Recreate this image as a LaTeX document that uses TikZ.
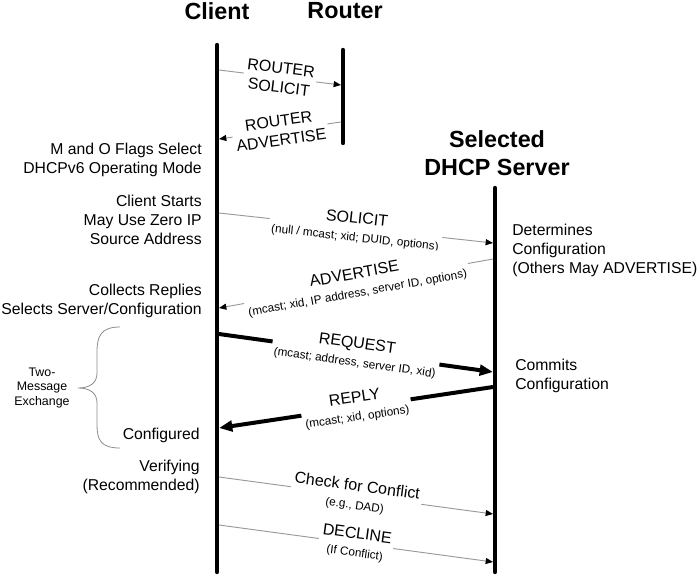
\documentclass[tikz,border=0pt]{standalone}
\usepackage{fontspec}
\setmainfont{Liberation Sans}
\usetikzlibrary{arrows.meta}
\newcommand{\smallf}{\fontsize{8.8}{10}\selectfont}
\begin{document}
\begin{tikzpicture}[x=0.75pt,y=-0.75pt,
  life/.style={line width=3.3pt, line cap=round},
  head/.style={font=\fontsize{17.5}{21}\selectfont\bfseries, align=center, inner sep=0pt},
  body/.style={font=\fontsize{11.8}{14.3}\selectfont, inner sep=0pt},
  thinmsg/.style={draw=black!40, line width=0.7pt, -{Triangle[length=5.5pt,width=4.5pt,color=black]}},
  thickmsg/.style={draw=black, line width=3pt, -{Triangle[length=10pt,width=8pt]}},
  lbl/.style={sloped, fill=white, inner sep=2pt, align=center, font=\fontsize{12}{13}\selectfont},
  rlbl/.style={lbl, font=\fontsize{12}{14.5}\selectfont},
  bracestyle/.style={draw=black!45, line width=0.6pt},
]
\useasboundingbox (0,0) rectangle (700,575);

% headers
\node[head] (hc) at (217,11) {Client};
\node[head] (hr) at (345,11) {Router};
\node[head] (hs) at (497,153) {Selected\\DHCP Server};

% lifelines
\coordinate (ct) at (217,45);  \coordinate (cb) at (217,572);
\coordinate (rt) at (343,50);  \coordinate (rb) at (343,143);
\coordinate (st) at (495,188); \coordinate (sb) at (495,572);
\draw[life] (ct) -- (cb);
\draw[life] (rt) -- (rb);
\draw[life] (st) -- (sb);

% message end points
\coordinate (c1) at (219,70);  \coordinate (r1) at (341,85);
\coordinate (r2) at (341,122); \coordinate (c2) at (219,139);
\coordinate (c3) at (219,213); \coordinate (s3) at (493,243);
\coordinate (s4) at (493,259); \coordinate (c4) at (219,308);
\coordinate (c5) at (219,334); \coordinate (s5) at (493,372);
\coordinate (s6) at (493,387); \coordinate (c6) at (219,428);
\coordinate (c7) at (219,477); \coordinate (s7) at (493,514);
\coordinate (c8) at (219,525); \coordinate (s8) at (493,562);

\draw[thinmsg] (c1) -- node[rlbl] (m1) {ROUTER\\SOLICIT} (r1);
\draw[thinmsg] (r2) -- node[rlbl] (m2) {ROUTER\\ADVERTISE} (c2);
\draw[thinmsg] (c3) -- node[lbl] (m3) {SOLICIT\\[0.5pt]{\smallf (null / mcast; xid; DUID, options)}} (s3);
\draw[thinmsg] (s4) -- node[lbl] (m4) {ADVERTISE\\[0.5pt]{\smallf (mcast; xid, IP address, server ID, options)}} (c4);
\draw[thickmsg] (c5) -- node[lbl] (m5) {REQUEST\\[0.5pt]{\smallf (mcast; address, server ID, xid)}} (s5);
\draw[thickmsg] (s6) -- node[lbl] (m6) {REPLY\\[0.5pt]{\smallf (mcast; xid, options)}} (c6);
\draw[thinmsg] (c7) -- node[lbl] (m7) {Check for Conflict\\[0.5pt]{\smallf (e.g., DAD)}} (s7);
\draw[thinmsg] (c8) -- node[lbl] (m8) {DECLINE\\[0.5pt]{\smallf (If Conflict)}} (s8);

% client side notes
\node[body, align=right, anchor=east] (n1) at (202,160) {M and O Flags Select\\DHCPv6 Operating Mode};
\node[body, align=right, anchor=east] (n2) at (202,220) {Client Starts\\May Use Zero IP\\Source Address};
\node[body, align=right, anchor=east] (n3) at (202,301) {Collects Replies\\Selects Server/Configuration};
\node[body, align=right, anchor=east] (n4) at (200,435) {Configured};
\node[body, align=right, anchor=east] (n5) at (200,477) {Verifying\\(Recommended)};

% server side notes
\node[body, align=left, anchor=west] (n6) at (512,250) {Determines\\Configuration\\(Others May ADVERTISE)};
\node[body, align=left, anchor=west] (n7) at (515,376) {Commits\\Configuration};

% brace
\draw[bracestyle] (120,327) .. controls (101,327) and (97,336) .. (97,352)
  -- (97,373) .. controls (97,383) and (90,388) .. (78,388)
  .. controls (90,388) and (97,393) .. (97,403)
  -- (97,425) .. controls (97,440) and (101,448) .. (120,448);
\node[font=\fontsize{9.3}{11}\selectfont, align=center, inner sep=0pt] (bx) at (42,388) {Two-\\Message\\Exchange};
\end{tikzpicture}
\end{document}
